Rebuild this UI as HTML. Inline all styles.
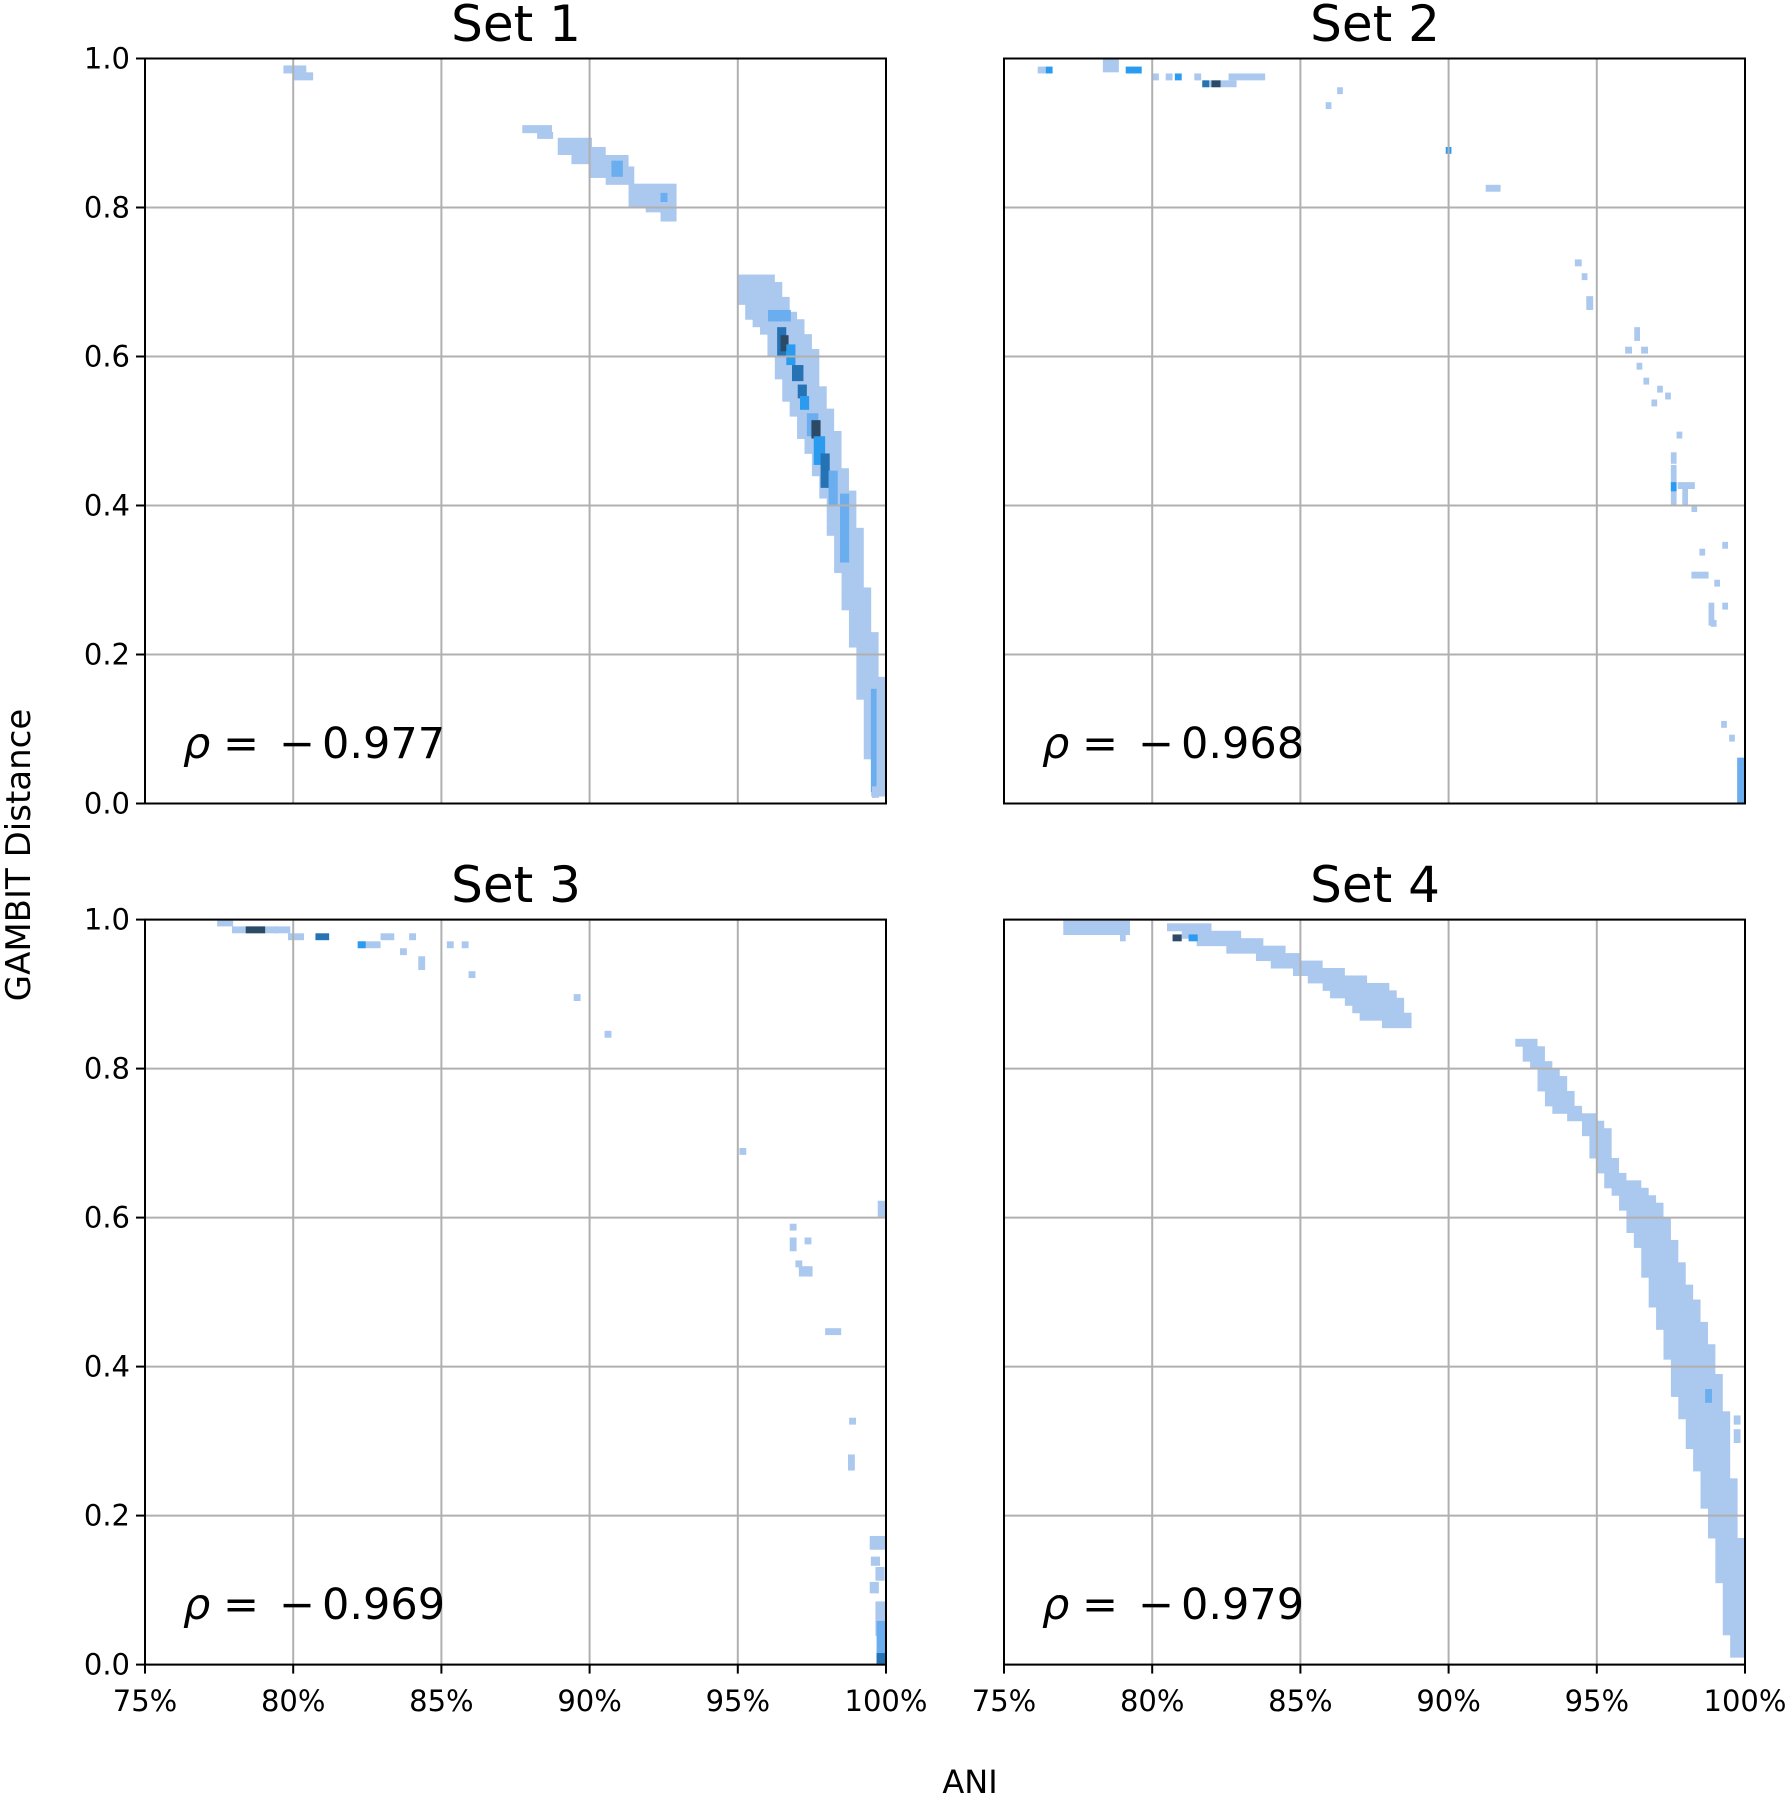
<!DOCTYPE html>
<html><head><meta charset="utf-8"><style>
html,body{margin:0;padding:0;background:#fff}
svg{display:block}
text{font-family:"DejaVu Sans","Liberation Sans",sans-serif;fill:#000}
</style></head><body>
<svg id="s" width="1792" height="1800" viewBox="0 0 1792 1800" xmlns="http://www.w3.org/2000/svg">
<g id="cells"></g><g id="grid"></g><g id="ax"></g>
<text x="516" y="41" font-size="50" text-anchor="middle">Set 1</text>
<text x="1375" y="41" font-size="50" text-anchor="middle">Set 2</text>
<text x="516" y="902" font-size="50" text-anchor="middle">Set 3</text>
<text x="1375" y="902" font-size="50" text-anchor="middle">Set 4</text>
<g id="rho"></g>
<text x="970" y="1793" font-size="32" text-anchor="middle">ANI</text>
<text transform="translate(30,855) rotate(-90)" font-size="34" text-anchor="middle">GAMBIT Distance</text>
</svg>
<script>
const NS="http://www.w3.org/2000/svg";
const P={L:145,R:1004,T:58.5,B:919.6,W:741,H:745};
const panels=[[P.L,P.T],[P.R,P.T],[P.L,P.B],[P.R,P.B]];
const cells=document.getElementById('cells'),grid=document.getElementById('grid'),ax=document.getElementById('ax'),rho=document.getElementById('rho');
function el(p,tag,a,txt){const e=document.createElementNS(NS,tag);for(const k in a)e.setAttribute(k,a[k]);if(txt!==undefined)e.textContent=txt;p.appendChild(e);return e;}
[[183,758,'0.977'],[1042,758,'0.968'],[183,1619,'0.969'],[1042,1619,'0.979']].forEach(([x,y,n])=>{
 el(rho,'text',{x:x,y:y,'font-size':43,'font-style':'italic'},'ρ');
 el(rho,'text',{x:x+40,y:y,'font-size':43},'=');
 el(rho,'text',{x:x+96,y:y,'font-size':43},'−');
 el(rho,'text',{x:x+139,y:y,'font-size':43},n);
});
const C={l:'#abc8ee',m:'#6aaeef',b:'#2b9bf0',d:'#2572b5',k:'#2c4a66'};
function R(x,y,w,h,c){el(cells,'rect',{x:x,y:y,width:w,height:h,fill:c});}
const SX=1792/1568,SY=1800/1568;
function D(dx,dy,w,h,c){R(dx*SX,dy*SY,w*SX,h*SY,C[c||'l']);}
function band(pi,pts,c){const [ox,oy]=panels[pi];
 for(let v=pts[0][0];v>=pts[pts.length-1][0]-1e-9;v-=0.01){
  let i=0;while(i<pts.length-2&&v<pts[i+1][0])i++;
  const a=pts[i],b=pts[i+1];const t=(a[0]-v)/(a[0]-b[0]||1);
  let xl=a[1]+(b[1]-a[1])*t,xr=a[2]+(b[2]-a[2])*t;
  xl=Math.floor(xl*4)/4;xr=Math.ceil(xr*4)/4;
  const X=ox+(xl-75)/25*P.W,X2=ox+(xr-75)/25*P.W;const Y=oy+(1-v)*P.H;
  R(X,Y-P.H*0.01,X2-X,P.H*0.01+0.5,C[c||'l']);}}
// Set 1
D(248,57,20,7);D(256,63,18,7);
D(457,109,26,7);D(470,115,14,6);D(488,120,30,15);D(500,128,30,15);D(515,135,35,20);D(530,145,25,16);D(550,160,42,20);D(565,175,25,10);D(578,180,14,13);
D(535,140,10,14,'m');D(578,168,6,8,'m');
band(0,[[0.70,95,96.2],[0.66,95.3,96.7],[0.62,96,97.4],[0.55,96.6,97.8],[0.5,97.1,98.2],[0.45,97.6,98.5],[0.4,98,98.9],[0.3,98.5,99.2],[0.2,99,99.6],[0.1,99.4,100],[0.01,99.6,100]]);
D(672,270,20,10,'m');D(680,285,8,25,'d');D(683,292,7,14,'k');D(688,300,8,18,'b');D(693,318,10,14,'d');D(698,335,8,12,'d');D(700,345,8,12,'b');
D(706,360,10,20,'m');D(710,366,8,16,'k');D(712,380,10,25,'b');D(718,395,8,30,'d');D(725,410,8,30,'m');D(735,430,8,60,'m');D(762,600,5,90,'m');D(763,685,6,10);
// Set 2
D(908,58,7,6);D(915,58,6,6,'b');D(965,51,14,12);D(985,58,14,6,'b');D(1008,64,6,6);D(1020,64,6,6);D(1028,64,6,6,'b');D(1045,64,6,6);
D(1052,70,30,6);D(1060,70,8,6,'k');D(1052,70,6,6,'d');D(1075,64,32,6);D(1160,89,5,6);D(1170,76,5,6);D(1265,128,5,6,'b');D(1300,161,13,6);
D(1378,226,6,6);D(1384,238,5,6);D(1388,258,6,12);D(1430,285,5,12);D(1422,302,6,6);D(1436,302,6,6);D(1432,316,5,6);D(1438,329,5,6);D(1445,348,5,6);D(1450,336,5,6);D(1457,342,5,6);D(1467,376,5,6);
D(1462,394,5,10);D(1462,405,5,35);D(1462,420,5,8,'b');D(1468,420,15,6);D(1472,426,5,14);D(1480,440,5,6);
D(1487,478,5,6);D(1480,498,15,6);D(1507,472,5,6);D(1500,505,5,6);D(1495,525,5,20);D(1507,525,5,6);D(1497,540,5,6);D(1506,628,5,6);D(1513,640,5,6);D(1520,660,6,40,'m');
// Set 3
D(190,801,14,6);D(203,807,40,6);D(215,807,17,6,'k');D(240,807,14,6);D(252,813,14,6);D(276,813,12,6,'d');D(313,820,20,6);D(313,820,7,6,'b');D(333,813,12,6);D(350,826,6,6);D(358,813,6,6);D(366,833,6,12);
D(391,820,6,6);D(404,820,6,6);D(410,846,6,6);D(502,866,6,6);D(529,898,6,6);D(647,1000,6,6);D(691,1066,6,6);D(691,1078,6,12);D(704,1078,6,6);D(696,1098,6,6);D(699,1103,12,9);
D(722,1157,14,6);D(743,1235,6,6);D(742,1267,6,14);D(768,1046,7,14);D(761,1338,14,12);D(762,1356,8,8);D(766,1365,8,12);D(761,1378,8,10);D(766,1395,9,30);D(767,1412,8,38,'m');D(767,1440,8,10,'d');
// Set 4
band(3,[[0.99,77,79.2],[0.98,77,79.2]]);
D(980,808,5,12);
band(3,[[0.985,80.5,82],[0.965,81.5,83.6],[0.945,83.5,85],[0.92,85.2,86.8],[0.90,86,88.1],[0.86,87.4,88.6],[0.85,88.2,88.6]]);
D(1026,814,8,6,'k');D(1040,814,8,6,'b');
band(3,[[0.83,92.4,92.9],[0.79,93,93.6],[0.74,93.6,94.4],[0.72,94.6,95.2],[0.66,95.1,95.6],[0.62,95.8,97],[0.55,96.5,97.6],[0.45,97.2,98.6],[0.35,97.8,99.2],[0.25,98.5,99.5],[0.15,99.1,99.8],[0.01,99.6,100]]);
D(1492,1210,6,12,'m');D(1517,1233,6,8);D(1517,1245,6,12);
// grid + axes
const xt=[75,80,85,90,95,100],yt=[0,0.2,0.4,0.6,0.8,1.0];
panels.forEach(([ox,oy],i)=>{
 xt.forEach(t=>{const x=ox+(t-75)/25*P.W;el(grid,'line',{x1:x,y1:oy,x2:x,y2:oy+P.H,stroke:'#b0b0b0','stroke-width':2});
  if(i>=2){el(ax,'line',{x1:x,y1:oy+P.H,x2:x,y2:oy+P.H+9,stroke:'#000','stroke-width':2});
   el(ax,'text',{x:x,y:1711,'font-size':29,'text-anchor':'middle'},t+'%');}});
 yt.forEach(t=>{const y=oy+(1-t)*P.H;el(grid,'line',{x1:ox,y1:y,x2:ox+P.W,y2:y,stroke:'#b0b0b0','stroke-width':2});
  if(i%2==0){el(ax,'line',{x1:ox-9,y1:y,x2:ox,y2:y,stroke:'#000','stroke-width':2});
   el(ax,'text',{x:ox-15,y:y+10,'font-size':29,'text-anchor':'end'},t.toFixed(1));}});
 el(ax,'rect',{x:ox,y:oy,width:P.W,height:P.H,fill:'none',stroke:'#000','stroke-width':2});
});
</script>
</body></html>
